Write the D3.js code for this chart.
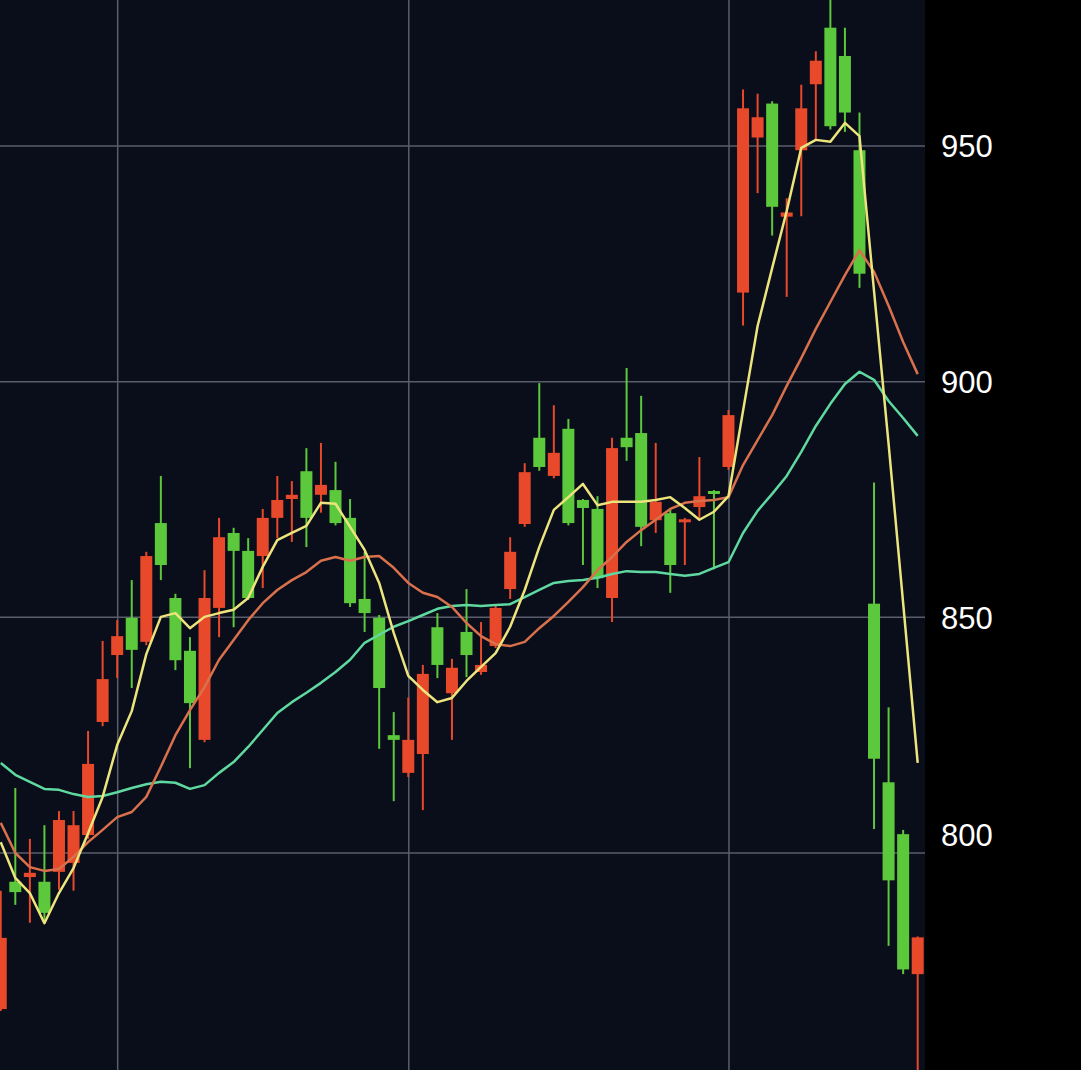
<!DOCTYPE html>
<html>
<head>
<meta charset="utf-8">
<script src="https://cdn.jsdelivr.net/npm/d3@7"></script>
<style>
  html, body { margin: 0; padding: 0; background: #000; }
  svg { display: block; }
</style>
</head>
<body>
<script>
// candle data, index 0..63 (red = up, green = down)
var opens  = [766.9,793.9,794.9,793.9,796,797.9,803.8,827.8,842,849.9,844.8,870,854.1,842.9,824,852,867.9,864.1,863,871.1,875.1,881,876,877,871.1,853.9,849.9,825,817,821,847.9,833.9,846.9,838.4,843.9,856,869.8,888.1,880,890,874.9,873,854.1,888.1,889.1,870.6,872.1,870.2,873.4,876.8,881.9,918.9,951.8,959,935,949.1,963.1,975.1,969.1,949.1,852.9,815,804,774.3];
var highs  = [792,813.8,803,805.9,808.9,808.9,825.9,845,849.4,857.9,863.9,880,855,845.8,860,871.1,869,866.8,873,880,878.9,885.9,887,883,875.1,863.9,850.5,829.9,833,839.9,850.9,841.2,856,849,852.4,867,882.7,899.7,895,892.1,875.1,875.7,888.1,902.9,897,887,873,871.1,884,877,894,962,961.1,959.5,938.9,963,970.1,983,975.1,957.1,878.6,830.9,804.9,782.3];
var lows   = [766.5,789,785.2,785.8,792.2,792,803,826.9,837.1,835,844.1,857.9,838.8,818,823.5,845.8,847.9,853.7,856.2,866.8,866,864.9,872.2,869.5,852.2,846.9,822.1,811,816.1,809.1,837.1,824,837.3,837.8,843.5,853.9,869.2,881.1,879.5,869.5,861.1,856.2,849,883.2,865.1,867.9,855.2,861.1,871.1,860.2,881.3,911.9,940,931,918,935.1,951.4,953.5,953,919.9,805.1,780.3,774.3,750];
var closes = [782,791.7,795.8,787.3,807,805.9,818.9,836.9,846,843.1,863,861.1,840.9,831.8,854.1,867,864.1,854.1,871.1,874.9,876,871.1,878.1,870,853,850.9,835,824,824,838,839.9,839.3,842,839.9,852,863.9,880.8,881.9,884.9,870,873.2,858.3,885.9,886.1,869.2,874.5,861.1,870.8,875.7,876.2,892.9,958,956.1,937.1,935.9,958,968.1,954.2,957.1,922.9,820,794.2,775.3,782.1];

// moving averages
var ma5  = [802.3,794.7,791.5,785.1,791.5,796.8,804.2,811.9,822.9,830.1,842.2,850.1,850.9,847.7,850.1,850.9,851.6,854.1,860.7,866.4,867.9,869.4,874.3,874.1,869.2,864.3,857.3,846.7,837.6,834.6,832,832.9,836.5,839.5,842.4,848,855.8,864.9,872.8,875.5,878.3,873.8,874.5,874.5,874.5,874.9,875.5,873.2,870.7,872.4,875.7,893.8,911.8,924.1,936.2,949.6,951.3,950.9,954.9,952.1,919.2,886.8,853,819.1];
var ma10 = [806.4,800,797,796.2,796.6,799.2,802.3,804.9,807.6,808.7,811.9,818.3,825,830.3,835.2,841,845.2,849.4,853,855.8,857.9,859.6,862,862.8,862,862.8,863,860.5,857.3,855.2,854.3,852.2,848.8,846,844.3,843.9,844.8,847.7,850.3,853.3,856.4,860,862.8,866,868.5,870.7,873,874.3,874.7,874.9,875.5,882.3,887.6,892.9,899.1,905,911.2,916.9,922.6,927.9,923.3,916.1,908.4,901.6];
var ma20 = [819.1,816.6,815.1,813.6,813.4,812.5,811.9,812.1,812.9,813.8,814.6,815.1,814.9,813.6,814.4,817,819.3,822.5,826.1,829.7,832,834,836.1,838.4,841,844.6,846.3,848,849.2,850.5,851.8,852.4,852.6,852.4,852.6,852.8,854.3,855.8,857.3,857.7,857.9,858.4,859.2,859.8,859.6,859.6,859.2,858.8,859.2,860.5,861.7,867.9,872.6,876.2,880,885.1,890.6,895.3,899.5,902.1,900.4,895.9,892.3,888.5];

var yTicks = [800, 850, 900, 950];
var xGridAt = [8, 28, 50];

var W = 1081, H = 1070, plotW = 925;
var upColor = '#e8492a', downColor = '#5cc83c';

var svg = d3.select('body').append('svg').attr('width', W).attr('height', H);
svg.append('rect').attr('width', W).attr('height', H).attr('fill', '#000');
svg.append('rect').attr('width', plotW).attr('height', H).attr('fill', '#0a0d1a');

svg.append('defs').append('clipPath').attr('id', 'plotclip')
  .append('rect').attr('width', plotW).attr('height', H);

var x = d3.scaleLinear().domain([0, opens.length - 1]).range([0.75, 917.7]);
var y = d3.scaleLinear().domain([800, 950]).range([853, 146]);

// grid
var grid = svg.append('g').attr('stroke', '#5a5d6c').attr('stroke-width', 1.5);
grid.selectAll('.hg').data(yTicks).enter().append('line')
  .attr('x1', 0).attr('x2', plotW)
  .attr('y1', function(d){ return y(d); }).attr('y2', function(d){ return y(d); });
grid.selectAll('.vg').data(xGridAt).enter().append('line')
  .attr('y1', 0).attr('y2', H)
  .attr('x1', function(d){ return x(d) + 0.5; }).attr('x2', function(d){ return x(d) + 0.5; });

// y labels on the right (lowest one sits a bit above its line)
var yAxis = d3.axisRight(y).tickValues(yTicks).tickSize(0).tickPadding(0);
var ag = svg.append('g').attr('transform', 'translate(941,1)').call(yAxis);
ag.select('.domain').remove();
ag.selectAll('text').attr('fill', '#fff').attr('font-size', 31)
  .attr('font-family', '"Liberation Sans", Arial, sans-serif')
  .attr('y', function(d){ return d === 800 ? -18 : 0; });

var plot = svg.append('g').attr('clip-path', 'url(#plotclip)');

// candles
var idx = d3.range(opens.length);
var candle = plot.selectAll('.c').data(idx).enter().append('g');
candle.append('line')
  .attr('x1', function(i){ return x(i); }).attr('x2', function(i){ return x(i); })
  .attr('y1', function(i){ return y(highs[i]); }).attr('y2', function(i){ return y(lows[i]); })
  .attr('stroke', function(i){ return closes[i] >= opens[i] ? upColor : downColor; })
  .attr('stroke-width', 2);
candle.append('rect')
  .attr('x', function(i){ return x(i) - 6; }).attr('width', 12)
  .attr('y', function(i){ return y(Math.max(opens[i], closes[i])); })
  .attr('height', function(i){ return Math.max(3, Math.abs(y(opens[i]) - y(closes[i]))); })
  .attr('fill', function(i){ return closes[i] >= opens[i] ? upColor : downColor; });

// moving averages
var line = d3.line().x(function(d, i){ return x(i); }).y(function(d){ return y(d); });
[[ma20, '#5fd9a0'], [ma10, '#d8714c'], [ma5, '#ece47c']].forEach(function(m){
  plot.append('path').datum(m[0]).attr('d', line)
    .attr('fill', 'none').attr('stroke', m[1]).attr('stroke-width', 2.5)
    .attr('stroke-linejoin', 'round');
});
</script>
</body>
</html>
